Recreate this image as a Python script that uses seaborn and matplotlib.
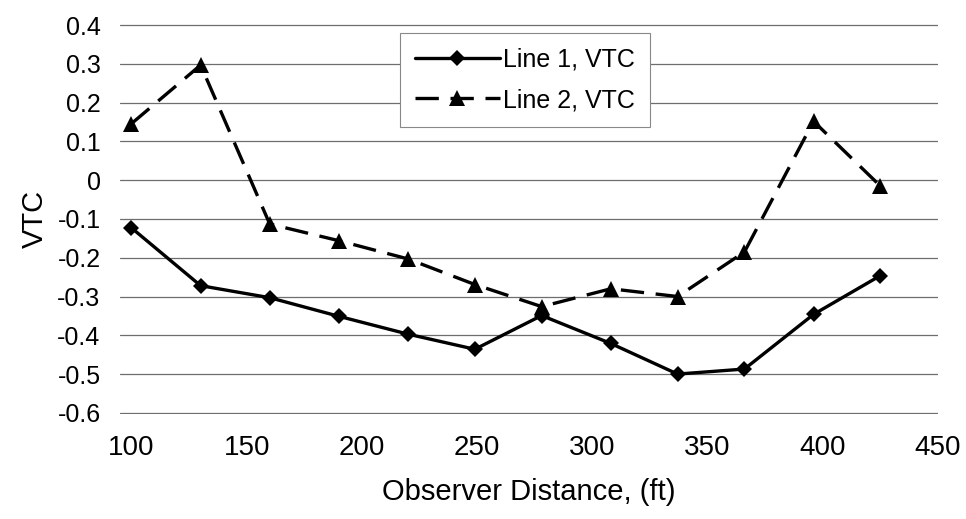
import pandas as pd
import numpy as np
import seaborn as sns
import matplotlib.pyplot as plt

# -------------------------
# data
# -------------------------
distance = [100, 130, 160, 190, 220, 249, 278, 308, 337, 366, 396, 425]
line1_vtc = [-0.123, -0.272, -0.303, -0.351, -0.397, -0.436, -0.349, -0.421, -0.500, -0.487, -0.346, -0.246]
line2_vtc = [0.146, 0.297, -0.113, -0.156, -0.203, -0.269, -0.326, -0.280, -0.300, -0.185, 0.152, -0.015]
series_names = ['Line 1, VTC', 'Line 2, VTC']

y_ticks = [0.4, 0.3, 0.2, 0.1, 0, -0.1, -0.2, -0.3, -0.4, -0.5, -0.6]
y_labels = ['0.4', '0.3', '0.2', '0.1', '0', '-0.1', '-0.2', '-0.3', '-0.4', '-0.5', '-0.6']
x_ticks = [100, 150, 200, 250, 300, 350, 400, 450]

df = pd.DataFrame({
    'distance': distance * 2,
    'vtc': line1_vtc + line2_vtc,
    'serie': [series_names[0]] * len(distance) + [series_names[1]] * len(distance),
})

# -------------------------
# style
# -------------------------
sns.set_theme(style='white')
plt.rcParams['font.family'] = ['Liberation Sans', 'DejaVu Sans']
plt.rcParams['axes.unicode_minus'] = False
plt.rcParams['text.color'] = 'black'
plt.rcParams['axes.labelcolor'] = 'black'
plt.rcParams['xtick.color'] = 'black'
plt.rcParams['ytick.color'] = 'black'

fig = plt.figure(figsize=(9.66, 5.19), dpi=100)
ax = fig.add_axes([0.1242, 0.2023, 0.8468, 0.7515])

sns.lineplot(
    data=df, x='distance', y='vtc', hue='serie', style='serie',
    palette=['black', 'black'],
    markers={series_names[0]: 'D', series_names[1]: '^'},
    dashes={series_names[0]: '', series_names[1]: (7, 3.5)},
    markersize=8, linewidth=2.4, markeredgewidth=0,
    ax=ax,
)
# triangles a bit bigger than the diamonds
for ln in ax.lines:
    if ln.get_marker() == '^':
        ln.set_markersize(11)

# -------------------------
# axes
# -------------------------
ax.set_xlim(95, 450)
ax.set_ylim(-0.603, 0.403)
ax.set_xticks(x_ticks)
ax.set_yticks(y_ticks)
ax.set_yticklabels(y_labels)
ax.tick_params(axis='y', labelsize=18, pad=14, length=0)
ax.tick_params(axis='x', labelsize=20, pad=15, length=0)

ax.yaxis.grid(True, color='#6e6e6e', linewidth=0.9)
ax.xaxis.grid(False)
for s in ax.spines.values():
    s.set_visible(False)

ax.set_xlabel('Observer Distance, (ft)', fontsize=21, labelpad=12)
ax.set_ylabel('VTC', fontsize=21, labelpad=6)

handles, labels = ax.get_legend_handles_labels()
for h in handles:
    if h.get_marker() == '^':
        h.set_markersize(11)
leg = ax.legend(
    handles, labels, loc='upper left', bbox_to_anchor=(0.342, 0.977),
    fontsize=18, frameon=True, fancybox=False, framealpha=1,
    edgecolor='#888888', handlelength=3.4, handletextpad=0.15,
    borderpad=0.6, labelspacing=0.65, borderaxespad=0,
)
leg.get_frame().set_linewidth(0.8)

fig.savefig('out.png', dpi=100)
